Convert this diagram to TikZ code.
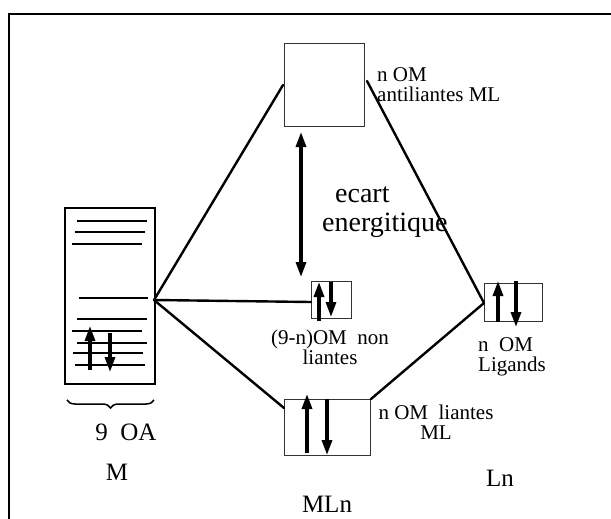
\documentclass[tikz,border=0pt]{standalone}
\usepackage{fontspec}
\setmainfont{Liberation Serif}
\usetikzlibrary{arrows.meta,decorations.pathreplacing}
\begin{document}
\begin{tikzpicture}[x=1pt,y=-1pt,
  obox/.style={draw=black!80,line width=1pt,inner sep=0pt,anchor=north west},
  conn/.style={line width=2.4pt,line cap=round},
  level/.style={line width=1.8pt},
  spin/.style={line width=3.2pt,-{Triangle[length=15pt,width=10pt]}},
  small/.style={font=\fontsize{21}{20}\selectfont,inner sep=0pt},
  big/.style={font=\fontsize{25}{28}\selectfont,inner sep=0pt},
  huge/.style={font=\fontsize{28}{29}\selectfont,inner sep=0pt}]
\useasboundingbox (0,0) rectangle (611,519);
\clip (0,0) rectangle (611,519);
% outer frame (open to the right and bottom)
\draw[line width=2.5pt] (9,540) -- (9,14) -- (630,14);
% boxes
\node[obox,draw=black,line width=2pt,minimum width=90pt,minimum height=176pt] (M) at (64,207) {};
\node[obox,minimum width=80pt,minimum height=83pt] (anti) at (284,43) {};
\node[obox,minimum width=40pt,minimum height=37pt] (non) at (311,281) {};
\node[obox,minimum width=58pt,minimum height=38pt] (lig) at (484,283) {};
\node[obox,minimum width=86pt,minimum height=56pt] (bond) at (284,399) {};
% levels in M
\draw[level] (77,221) -- (147,221);
\draw[level] (75,232) -- (145,232);
\draw[level] (72,244) -- (142,244);
\draw[level] (79,298) -- (148,298);
\draw[level] (77,319) -- (147,319);
\draw[level] (72,331) -- (142,331);
\draw[level] (77,343) -- (147,343);
\draw[level] (73,353) -- (143,353);
\draw[level] (75,365) -- (145,365);
% spins
\draw[spin] (90,370) -- (90,326);
\draw[spin] (110,333) -- (110,372);
\draw[spin] (319,321) -- (319,282);
\draw[spin] (331,282) -- (331,317);
\draw[spin] (498,322) -- (498,281);
\draw[spin] (516,281) -- (516,327);
\draw[spin] (307,453) -- (307,394);
\draw[spin] (327,399) -- (327,455);
% connectors
\coordinate (jM) at (154,300);
\coordinate (jL) at (484,303);
\draw[conn] (jM) -- (283,85);
\draw[conn] (jM) -- (non.west |- 0,302);
\draw[conn] (jM) -- (bond.west |- 0,408);
\draw[conn] (367,81) -- (jL);
\draw[conn] (jL) -- (bond.north east);
% energy gap
\draw[line width=3.2pt,{Triangle[length=15pt,width=10pt]}-{Triangle[length=15pt,width=10pt]}] (301,132) -- (301,277);
% brace
\draw[line width=1.5pt,decorate,decoration={brace,mirror,amplitude=8pt}] (67,400) -- (154,400);
% labels
\node[small,align=left,anchor=west] (lanti) at (377,85) {n OM\\antiliantes ML};
\node[huge,align=left,anchor=west] (lgap) at (322,212) {\hspace*{13pt}ecart\\energitique};
\node[small,align=center] (lnon) at (330,347) {(9-n)OM\ \ non\\liantes};
\node[small,align=left,anchor=west] (llig) at (478,357) {n\ \ OM\\Ligands};
\node[small,align=center] (lbond) at (436,422) {n OM\ \ liantes\\ML};
\node[big] (loa) at (126,432) {9\ \ OA};
\node[big] (lM) at (117,472) {M};
\node[big] (lLn) at (500,478) {Ln};
\node[big] (lMLn) at (327,504) {MLn};
\end{tikzpicture}
\end{document}
